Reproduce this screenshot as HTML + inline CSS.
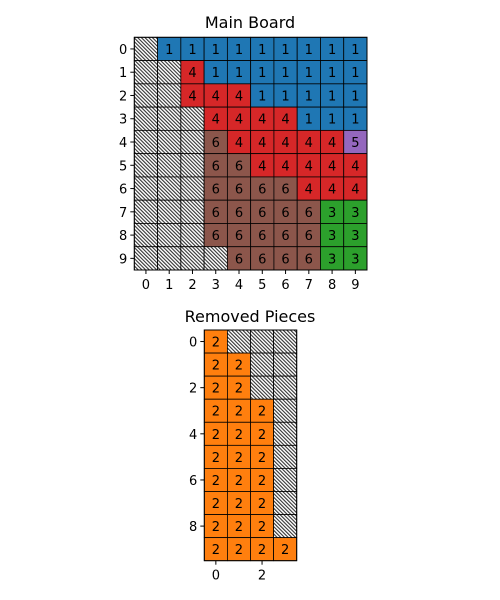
<!DOCTYPE html>
<html><head><meta charset="utf-8">
<style>body{margin:0;background:#fff}svg{display:block;font-family:"DejaVu Sans","Liberation Sans",sans-serif}</style>
</head><body>
<svg id="c" width="500" height="600" viewBox="0 0 500 600">
<defs>
<pattern id="hatch" width="2.6" height="2.6" patternUnits="userSpaceOnUse" patternTransform="rotate(-45)">
<rect width="2.6" height="2.6" fill="#fff"/><rect width="1.1" height="2.6" fill="#333"/>
</pattern>
</defs>
<text x="250" y="28" text-anchor="middle" font-size="16">Main Board</text>
<text x="250" y="322" text-anchor="middle" font-size="16">Removed Pieces</text>
<g id="g"></g>
</svg>
<script>
const mainBoard = [
"H111111111",
"HH41111111",
"HH44411111",
"HHH4444111",
"HHH6444445",
"HHH6644444",
"HHH6666444",
"HHH6666633",
"HHH6666633",
"HHHH666633"];
const removedCounts = [1,2,2,3,3,3,3,3,3,4];
const removedValue = 2;
const mainXTicks = [0,1,2,3,4,5,6,7,8,9];
const mainYTicks = [0,1,2,3,4,5,6,7,8,9];
const remXTicks = [0,2];
const remYTicks = [0,2,4,6,8];
const colors = {1:"#1f77b4",2:"#ff7f0e",3:"#2ca02c",4:"#d62728",5:"#9467bd",6:"#8c564b"};
const NS="http://www.w3.org/2000/svg";
const g=document.getElementById('g');
function mk(tag,attrs,txt){const e=document.createElementNS(NS,tag);for(const k in attrs)e.setAttribute(k,attrs[k]);if(txt!==undefined)e.textContent=txt;g.appendChild(e);return e;}
function drawGrid(grid,x0,y0,cw,ch,prefix,xt,yt){
  const rows=grid.length, cols=grid[0].length;
  const sx=c=>x0+c*cw, sy=r=>y0+r*ch;
  for(let r=0;r<rows;r++)for(let c=0;c<cols;c++){
    const v=grid[r][c];
    const rect=mk('rect',{x:sx(c),y:sy(r),width:cw,height:ch,fill:v==='H'?'url(#hatch)':colors[v],stroke:'#000','stroke-width':0.8});
    
    
    if(v!=='H'){
      const t=mk('text',{x:sx(c)+cw/2,y:sy(r)+ch/2+5,'text-anchor':'middle','font-size':13},v);
      
      
    }
  }
  const fr=mk('rect',{x:x0,y:y0,width:cols*cw,height:rows*ch,fill:'none',stroke:'#000','stroke-width':1});
  
  
  const yb=y0+rows*ch;
  xt.forEach(v=>{const x=sx(v)+cw/2;
    mk('line',{x1:x,x2:x,y1:yb,y2:yb+4,stroke:'#000'});
    const t=mk('text',{x:x,y:yb+19,'text-anchor':'middle','font-size':13},v);
    
    });
  yt.forEach(v=>{const y=sy(v)+ch/2;
    mk('line',{x1:x0-4,x2:x0,y1:y,y2:y,stroke:'#000'});
    const t=mk('text',{x:x0-7,y:y+5,'text-anchor':'end','font-size':13},v);
    
    });
}
drawGrid(mainBoard,134.3,37.3,23.27,23.27,'main',mainXTicks,mainYTicks);
const removedGrid=removedCounts.map(n=>{let s='';for(let i=0;i<4;i++)s+=i<n?String(removedValue):'H';return s;});
drawGrid(removedGrid,204.3,330,23.1,23.07,'removed',remXTicks,remYTicks);
</script>
</body></html>
